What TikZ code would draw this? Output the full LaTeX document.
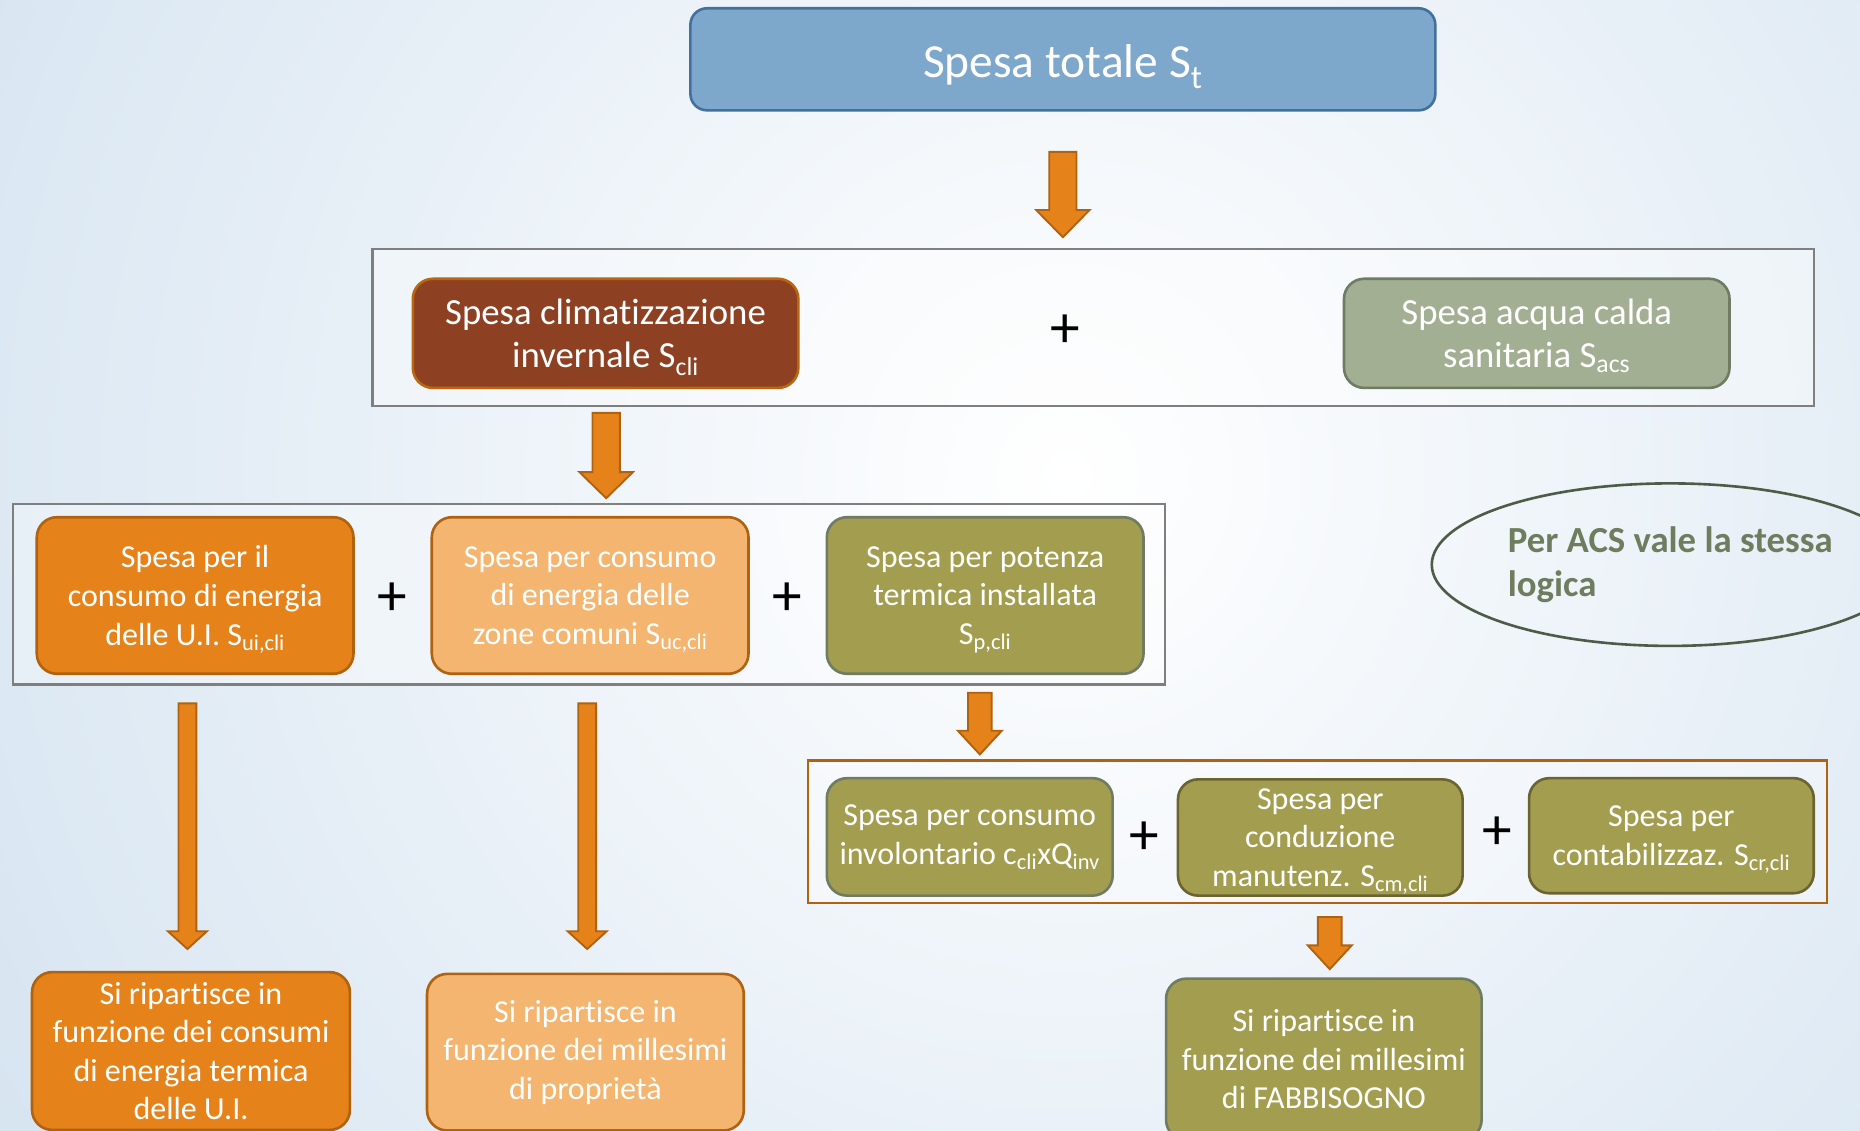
\documentclass[tikz,border=0pt]{standalone}
\usepackage{fontspec}
\setmainfont{Carlito}[Ligatures=NoCommon]
\usetikzlibrary{shapes.geometric}
\definecolor{bgblue}{HTML}{BCD3E8}
\definecolor{topfill}{HTML}{7EA8CB}
\definecolor{topdraw}{HTML}{41719C}
\definecolor{brownfill}{HTML}{8E4122}
\definecolor{browndraw}{HTML}{B9660F}
\definecolor{acsfill}{HTML}{A2AF92}
\definecolor{acsdraw}{HTML}{6F7B62}
\definecolor{orfill}{HTML}{E6821A}
\definecolor{ordraw}{HTML}{B0620F}
\definecolor{lofill}{HTML}{F3B56F}
\definecolor{olfill}{HTML}{A39D4F}
\definecolor{oldraw}{HTML}{6F7B62}
\definecolor{oldark}{HTML}{6B6430}
\definecolor{grpgray}{HTML}{7F7F7F}
\definecolor{notedraw}{HTML}{4E5B47}
\definecolor{notetext}{HTML}{6F7C5E}
\newcommand{\sbs}[1]{\smash{\textsubscript{#1}}}
\newcommand{\blkarrow}[6]{%
  \draw[blkarr] ({#1-#5},#2) -- ({#1+#5},#2) -- ({#1+#5},#3) -- ({#1+#6},#3)
    -- (#1,#4) -- ({#1-#6},#3) -- ({#1-#5},#3) -- cycle;}
\begin{document}
\begin{tikzpicture}[x=1pt,y=-1pt,
  bx/.style={draw, rounded corners=17pt, line width=2.2pt, text=white, align=center,
    inner sep=0pt, font=\fontsize{27}{32.5}\selectfont},
  bxbig/.style={bx, font=\fontsize{31}{37}\selectfont},
  grp/.style={draw=grpgray, line width=2pt, fill=white, fill opacity=0.35, text opacity=1, inner sep=0pt},
  grpor/.style={grp, draw=ordraw},
  plus/.style={font=\fontsize{50}{50}\selectfont, inner sep=0pt},
  blkarr/.style={fill=orfill, draw=ordraw, line width=1.6pt, line join=miter}
]
\useasboundingbox (0,0) rectangle (1568,953);
\clip (0,0) rectangle (1568,953);
% background
\shade[inner color=white, outer color=bgblue] (900,400) circle (1750);

% groups
\node[grp, minimum width=1215pt, minimum height=132pt] (g1) at (921.5,276) {};
\node[grp, minimum width=971pt, minimum height=152pt] (g2) at (496.5,501) {};
\node[grpor, minimum width=859pt, minimum height=120pt] (g3) at (1110.5,701) {};

% top
\node[bx, fill=topfill, draw=topdraw, rounded corners=14pt, minimum width=628pt, minimum height=86pt,
  font=\fontsize{40}{48}\selectfont] (top) at (896,50) {\rule{0pt}{37pt}Spesa totale S\sbs{t}};

% row 1
\node[bxbig, fill=brownfill, draw=browndraw, minimum width=325pt, minimum height=92pt] (cli) at (510.5,281)
  {Spesa climatizzazione\\invernale S\sbs{cli}};
\node[plus] (p1) at (898,279) {+};
\node[bxbig, fill=acsfill, draw=acsdraw, minimum width=325pt, minimum height=92pt] (acs) at (1295.5,281)
  {Spesa acqua calda\\sanitaria S\sbs{acs}};

% row 2
\node[bx, fill=orfill, draw=ordraw, minimum width=267pt, minimum height=132pt] (ui) at (164.5,502)
  {Spesa per il\\consumo di energia\\delle U.I. S\sbs{ui,cli}};
\node[plus] (p2) at (331,505) {+};
\node[bx, fill=lofill, draw=ordraw, minimum width=267pt, minimum height=132pt] (uc) at (497.5,502)
  {Spesa per consumo\\di energia delle\\zone comuni S\sbs{uc,cli}};
\node[plus] (p3) at (664,505) {+};
\node[bx, fill=olfill, draw=oldraw, minimum width=267pt, minimum height=132pt] (pc) at (830.5,502)
  {Spesa per potenza\\termica installata\\S\sbs{p,cli}};

% note
\node[ellipse, draw=notedraw, line width=2.2pt, minimum width=402pt, minimum height=137pt,
  align=left, text=notetext, font=\fontsize{31}{37}\selectfont\bfseries, inner sep=0pt] (note) at (1408,476)
  {Per ACS vale la stessa\\logica};

% row 3
\node[bx, fill=olfill, draw=oldraw, minimum width=241pt, minimum height=99pt] (inv) at (817.5,705.5)
  {Spesa per consumo\\involontario c\sbs{cli}xQ\sbs{inv}};
\node[plus] (p4) at (965,707) {+};
\node[bx, fill=olfill, draw=oldark, minimum width=240pt, minimum height=98pt] (cm) at (1113,706)
  {Spesa per\\conduzione\\manutenz. S\sbs{cm,cli}};
\node[plus] (p5) at (1262,702) {+};
\node[bx, fill=olfill, draw=oldark, minimum width=240pt, minimum height=97pt] (cr) at (1409,704.5)
  {Spesa per\\contabilizzaz. S\sbs{cr,cli}};

% bottom
\node[bx, fill=orfill, draw=ordraw, minimum width=268pt, minimum height=133pt] (r1) at (161,886)
  {Si ripartisce in\\funzione dei consumi\\di energia termica\\delle U.I.};
\node[bx, fill=lofill, draw=ordraw, minimum width=267pt, minimum height=132pt] (r2) at (493.5,887)
  {Si ripartisce in\\funzione dei millesimi\\di propriet\`a};
\node[bx, fill=olfill, draw=oldraw, minimum width=266pt, minimum height=136pt] (r3) at (1116,893)
  {Si ripartisce in\\funzione dei millesimi\\di FABBISOGNO};

% arrows
\blkarrow{896}{128}{177}{200}{11.5}{22.5}
\blkarrow{511}{348}{398}{420}{11.5}{22.5}
\blkarrow{158}{593}{785}{800}{7.5}{16.5}
\blkarrow{495}{593}{785}{800}{7.5}{16.5}
\blkarrow{826}{584}{616}{636}{10}{18.5}
\blkarrow{1121}{773}{797}{817}{10}{18.5}
\end{tikzpicture}
\end{document}
